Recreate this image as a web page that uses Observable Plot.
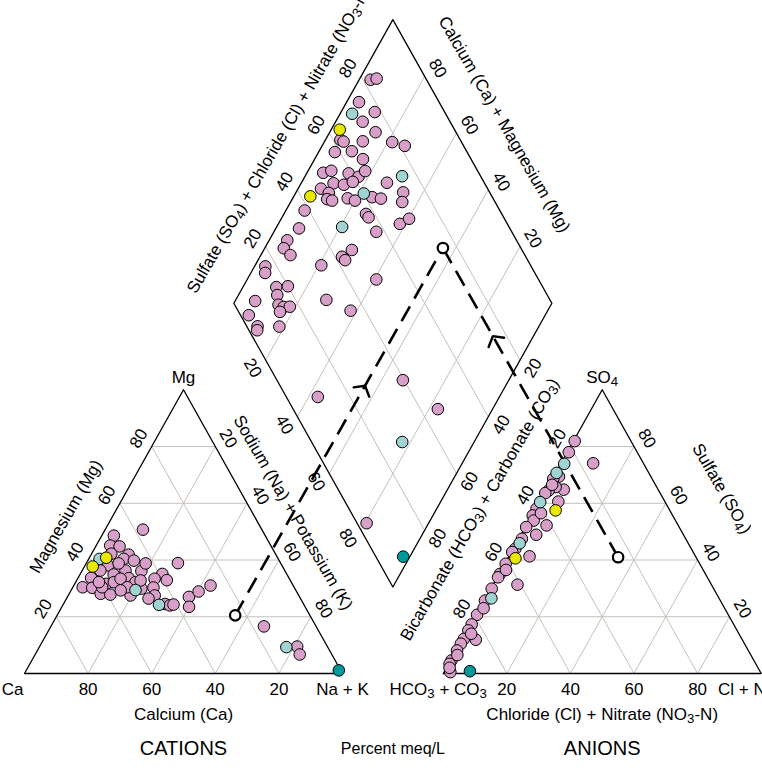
<!DOCTYPE html>
<html><head><meta charset="utf-8">
<script src="https://cdn.jsdelivr.net/npm/d3@7"></script>
<script src="https://cdn.jsdelivr.net/npm/@observablehq/plot@0.6"></script>
<style>body{margin:0;background:#fff}</style>
</head><body><div id="chart"></div>
<script>
// ---- DATA (percent meq/L) ----
// Cation triangle points: [Mg, Na+K, group]
const cationPoints = [
 [50.7,11.9,"p"],[48.6,3.8,"p"],[45.1,4.4,"p"],[44.8,7.5,"p"],[42.2,6.2,"p"],[40.4,3.4,"c"],[40.8,5.3,"y"],[37.7,2.6,"y"],
 [41.9,11.8,"p"],[40.4,11.0,"p"],[39.8,14.5,"p"],[38.9,28.8,"p"],[38.1,7.2,"p"],[36.3,5.7,"p"],[34.9,10.6,"p"],[31.6,9.9,"p"],
 [36.3,13.6,"p"],[36.1,18.7,"p"],[33.6,16.0,"p"],[32.2,18.8,"p"],[35.1,25.8,"p"],[33.4,24.2,"p"],[32.9,28.3,"p"],[33.7,4.1,"p"],
 [30.4,3.1,"p"],[30.2,6.2,"p"],[28.1,9.9,"p"],[27.8,13.1,"p"],[30.4,9.2,"p"],[29.4,20.2,"c"],[29.9,21.8,"p"],[27.5,19.6,"p"],
 [30.3,25.4,"p"],[27.5,27.2,"p"],[24.2,30.2,"c"],[24.5,32.0,"p"],[24.0,33.7,"p"],[24.3,34.7,"p"],[27.0,38.2,"p"],[28.9,40.3,"p"],
 [31.0,43.0,"p"],[23.5,40.0,"p"],[16.6,67.0,"p"],[9.3,77.7,"c"],[9.5,81.0,"p"],[6.7,83.2,"p"],[1.1,98.3,"t"],
 [32.2,7.3,"p"],[32.2,12.0,"p"],[33.4,13.5,"p"],[30.4,17.1,"p"],[32.8,20.1,"p"],[38.8,10.2,"p"],[38.8,18.7,"p"],[29.3,15.6,"p"],[26.4,25.8,"p"]
];
// Anion triangle points: [SO4, Cl+NO3, group]
const anionPoints = [
 [81.9,0.4,"p"],[78.0,0.5,"p"],[74.1,10.1,"p"],[73.9,1.1,"c"],[70.7,0.3,"c"],[69.4,1.7,"p"],[68.6,0.3,"p"],[64.8,5.5,"p"],
 [65.7,2.5,"p"],[64.5,0.9,"p"],[63.6,0.3,"p"],[60.6,5.9,"p"],[60.4,0.3,"c"],[57.5,6.6,"y"],[58.1,0.3,"p"],[55.7,0.3,"p"],
 [53.9,1.5,"p"],[52.2,6.4,"p"],[51.6,0.3,"p"],[48.9,4.8,"p"],[45.9,1.1,"c"],[44.0,0.7,"p"],[42.8,0.3,"p"],[40.6,2.4,"y"],
 [41.3,6.5,"p"],[38.7,0.3,"p"],[35.1,0.3,"p"],[33.9,0.3,"p"],[31.3,7.7,"p"],[29.9,0.3,"p"],[26.5,1.9,"c"],[25.7,0.3,"p"],
 [20.7,0.3,"p"],[17.3,0.3,"p"],[15.2,0.3,"p"],[11.9,4.3,"p"],[12.2,0.4,"p"],[10.5,0.3,"p"],[8.1,0.3,"p"],[4.6,0.3,"p"],
 [3.4,0.3,"p"],[0.5,2.0,"p"],[0.8,8.0,"t"],
 [47.5,1.0,"p"],[36.5,1.5,"p"],[23.0,1.2,"p"],[14.0,1.8,"p"],[6.5,1.2,"p"],[2.0,1.0,"p"],[56.5,2.5,"p"],[66.5,1.0,"p"]
];
// Diamond points: [Ca+Mg, SO4+Cl+NO3, group]
const diamondPoints = [
 [96.4,82.4,"p"],[94.7,84.5,"p"],[96.1,74.8,"p"],[96.2,70.6,"c"],[89.4,78.0,"p"],[91.5,72.5,"p"],[97.3,63.9,"y"],[85.6,74.7,"p"],
 [95.3,62.3,"p"],[94.0,63.0,"p"],[88.0,69.1,"p"],[78.6,78.2,"p"],[74.0,81.5,"p"],[89.7,63.9,"p"],[94.9,58.4,"p"],[84.8,66.0,"p"],
 [94.9,51.1,"p"],[92.7,54.0,"p"],[86.8,59.0,"p"],[83.1,61.5,"p"],[82.0,64.6,"p"],[69.5,75.3,"c"],[73.1,69.4,"p"],[89.8,52.5,"p"],
 [86.3,55.5,"p"],[84.0,58.8,"p"],[92.8,47.6,"p"],[89.6,49.3,"p"],[94.8,42.9,"y"],[89.0,47.7,"p"],[87.2,49.0,"p"],[82.7,54.3,"p"],
 [80.0,56.2,"p"],[78.5,60.2,"c"],[75.2,62.2,"p"],[72.2,64.7,"p"],[66.3,72.8,"p"],[64.9,70.8,"p"],[94.1,38.6,"p"],[74.2,57.3,"p"],
 [72.8,57.5,"p"],[61.8,66.2,"p"],[59.8,70.0,"p"],[67.8,57.4,"p"],[79.4,47.5,"c"],[92.7,33.7,"p"],[94.3,27.9,"p"],[94.0,25.4,"p"],
 [90.7,26.3,"p"],[72.3,46.5,"p"],[74.2,42.2,"p"],[72.6,42.6,"p"],[79.2,34.2,"p"],[96.6,16.4,"p"],[95.5,15.2,"p"],[89.5,16.2,"p"],
 [86.0,20.0,"p"],[87.8,15.1,"p"],[59.4,49.0,"p"],[71.5,29.7,"p"],[93.7,7.1,"p"],[85.7,13.8,"p"],[83.7,15.0,"p"],[81.8,17.0,"p"],
 [84.0,13.0,"p"],[62.0,35.4,"p"],[93.2,2.6,"p"],[88.5,3.4,"p"],[87.9,2.6,"p"],[81.6,10.2,"p"],[57.1,9.9,"p"],[33.3,39.6,"p"],
 [17.2,45.5,"p"],[22.6,28.5,"c"],[19.5,3.0,"p"],[2.1,8.6,"t"]
];
// Highlighted sample with projection lines: cation [Mg, Na+K], anion [SO4, Cl+NO3]
const sampleCation = [20.5, 56.0];
const sampleAnion = [41.0, 34.5];
const tickValues = [20, 40, 60, 80];
const groupColors = {p: "#d8a0c8", c: "#a0d4d2", y: "#e8e800", t: "#00999a"};
const groupOrder = ["p", "c", "y", "t"];

// ---- GEOMETRY (ternary -> cartesian) ----
const H = Math.sqrt(3) / 2, G = 31.67, BY = 26.4, XMAX = 200 + G;
const cat = (mg, nak) => [nak + mg / 2, mg * H];
const an = (so4, cl) => [100 + G + cl + so4 / 2, so4 * H];
const dia = (camg, s) => [100 + G / 2 + (s - camg) / 2, BY + (camg + s) * H];

const pt = (p, extra = {}) => ({x: p[0], y: p[1], ...extra});
const seg = (a, b) => ({x1: a[0], y1: a[1], x2: b[0], y2: b[1]});

const frames = [
  [cat(0,0), cat(0,100), cat(100,0), cat(0,0)],
  [an(0,0), an(0,100), an(100,0), an(0,0)],
  [dia(0,0), dia(0,100), dia(100,100), dia(100,0), dia(0,0)]
].flatMap((poly, i) => poly.map(p => pt(p, {id: i})));

const grid = [];
for (const k of tickValues) {
  grid.push(seg(cat(k,0), cat(k,100-k)));
  grid.push(seg(cat(0,k), cat(100-k,k)));
  grid.push(seg(cat(0,100-k), cat(100-k,0)));
  grid.push(seg(an(k,0), an(k,100-k)));
  grid.push(seg(an(0,k), an(100-k,k)));
  grid.push(seg(an(0,100-k), an(100-k,0)));
  grid.push(seg(dia(k,0), dia(k,100)));
  grid.push(seg(dia(0,k), dia(100,k)));
}

const sortG = (a, b) => groupOrder.indexOf(a[2]) - groupOrder.indexOf(b[2]);
const dots = [
  ...[...cationPoints].sort(sortG).map(d => pt(cat(d[0], d[1]), {g: d[2]})),
  ...[...anionPoints].sort(sortG).map(d => pt(an(d[0], d[1]), {g: d[2]})),
  ...[...diamondPoints].sort(sortG).map(d => pt(dia(d[0], d[1]), {g: d[2]}))
];

// highlighted sample and its projections
const sc = cat(sampleCation[0], sampleCation[1]);
const sa = an(sampleAnion[0], sampleAnion[1]);
const sd = dia(100 - sampleCation[1], sampleAnion[0] + sampleAnion[1]);
const lerp = (a, b, t) => [a[0] + (b[0]-a[0])*t, a[1] + (b[1]-a[1])*t];
function chevron(from, to, t, id) {
  const tip = lerp(from, to, t);
  const len = Math.hypot(to[0]-from[0], to[1]-from[1]);
  const ux = (to[0]-from[0]) / len, uy = (to[1]-from[1]) / len;
  const arm = 3.6, ang = 52 * Math.PI / 180;
  const rot = (a) => [tip[0] - arm * (ux*Math.cos(a) - uy*Math.sin(a)), tip[1] - arm * (ux*Math.sin(a) + uy*Math.cos(a))];
  return [rot(ang), tip, rot(-ang)].map(p => pt(p, {id}));
}
const heads = [...chevron(sc, sd, 0.625, 0), ...chevron(sa, sd, 0.715, 1)];

// ---- LABELS, grouped by offset style ----
const styles = {
  bottom: {dx: 0, dy: 16, rotate: 0},
  ca: {dx: -12, dy: 16, rotate: 0},
  hco3: {dx: -5, dy: 16, rotate: 0},
  top: {dx: 0, dy: -12, rotate: 0},
  upLeft: {dx: -13, dy: -8, rotate: -60},
  upRight: {dx: 13, dy: -8, rotate: 60},
  downLeft: {dx: -13, dy: 8, rotate: 60},
  downRight: {dx: 13, dy: 8, rotate: -60},
  titleBottom: {dx: 0, dy: 41, rotate: 0},
  tMg: {dx: -38, dy: -15, rotate: -60},
  tNaK: {dx: 30, dy: -19, rotate: 60},
  tDiaUL: {dx: -34, dy: -22, rotate: -60},
  tDiaUR: {dx: 32, dy: -37, rotate: 60},
  tHCO3: {dx: -43, dy: -22, rotate: -60},
  tSO4: {dx: 40, dy: -43, rotate: 60}
};
const labels = [];
const L = (p, text, s) => labels.push({x: p[0], y: p[1], text, s});
for (const v of tickValues) {
  L(cat(0, v), String(100 - v), "bottom");
  L(an(0, v), String(v), "bottom");
  L(cat(v, 0), String(v), "upLeft");
  L(cat(100 - v, v), String(v), "upRight");
  L(an(100 - v, 0), String(v), "upLeft");
  L(an(v, 100 - v), String(v), "upRight");
  L(dia(100, v), String(v), "upLeft");
  L(dia(v, 100), String(v), "upRight");
  L(dia(100 - v, 0), String(v), "downLeft");
  L(dia(0, 100 - v), String(v), "downRight");
}
L(cat(0,0), "Ca", "ca");
L(cat(0,100), "Na + K", "bottom");
L(an(0,0), "HCO_3 + CO_3", "hco3");
L(an(0,100), "Cl + NO_3-N", "bottom");
L(cat(100,0), "Mg", "top");
L(an(100,0), "SO_4", "top");
L(cat(0,50), "Calcium (Ca)", "titleBottom");
L(an(0,50), "Chloride (Cl) + Nitrate (NO_3-N)", "titleBottom");
L(cat(50,0), "Magnesium (Mg)", "tMg");
L(cat(50,50), "Sodium (Na) + Potassium (K)", "tNaK");
L(dia(100,50), "Sulfate (SO_4) + Chloride (Cl) + Nitrate (NO_3-N)", "tDiaUL");
L(dia(50,100), "Calcium (Ca) + Magnesium (Mg)", "tDiaUR");
L(an(50,0), "Bicarbonate (HCO_3) + Carbonate (CO_3)", "tHCO3");
L(an(50,50), "Sulfate (SO_4)", "tSO4");

const bottomTitles = [
  {x: cat(0,50)[0], y: 0, text: "CATIONS", size: 20},
  {x: 100 + G/2, y: 0, text: "Percent meq/L", size: 16},
  {x: an(0,50)[0], y: 0, text: "ANIONS", size: 20}
];

const textMarks = Object.entries(styles).map(([k, s]) =>
  Plot.text(labels.filter(d => d.s === k), {x: "x", y: "y", text: "text", dx: s.dx, dy: s.dy, rotate: s.rotate, fill: "#000"}));

const chart = Plot.plot({
  width: 762, height: 781,
  marginLeft: 0, marginRight: 0, marginTop: 0, marginBottom: 0,
  x: {domain: [0, XMAX], range: [24, 24 + 3.18 * XMAX], axis: null},
  y: {domain: [0, 200], range: [673, 673 - 3.276 * 200], axis: null},
  style: {fontFamily: "'Liberation Sans', Arial, sans-serif", fontSize: "17px", background: "white"},
  marks: [
    Plot.link(grid, {x1: "x1", y1: "y1", x2: "x2", y2: "y2", stroke: "#c6c0ba", strokeWidth: 1}),
    Plot.line(frames, {x: "x", y: "y", z: "id", stroke: "#000", strokeWidth: 1.3}),
    Plot.link([seg(sc, sd), seg(sa, sd)], {x1: "x1", y1: "y1", x2: "x2", y2: "y2", stroke: "#000", strokeWidth: 2.6, strokeDasharray: "17,9"}),
    Plot.line(heads, {x: "x", y: "y", z: "id", stroke: "#000", strokeWidth: 2.4, strokeLinejoin: "miter"}),
    Plot.dot(dots, {x: "x", y: "y", r: 5.8, fill: d => groupColors[d.g], stroke: "#000", strokeWidth: 1}),
    Plot.dot([pt(sc), pt(sa), pt(sd)], {x: "x", y: "y", r: 5.2, fill: "white", stroke: "#000", strokeWidth: 2.2}),
    ...textMarks,
    ...bottomTitles.map(t => Plot.text([t], {x: "x", y: "y", text: "text", dy: 75, fontSize: t.size, fill: "#000"}))
  ]
});
// subscripts: "_d" -> lowered, smaller digit
const NS = "http://www.w3.org/2000/svg";
chart.querySelectorAll("text").forEach(t => {
  const s = t.textContent;
  if (!s.includes("_")) return;
  const parts = s.split(/_(\d)/);
  t.textContent = "";
  parts.forEach((p, i) => {
    if (!p) return;
    const ts = document.createElementNS(NS, "tspan");
    ts.textContent = p;
    if (i % 2) { ts.setAttribute("baseline-shift", "-22%"); ts.setAttribute("font-size", "78%"); }
    t.appendChild(ts);
  });
});
document.getElementById("chart").appendChild(chart);
</script>
</body></html>
